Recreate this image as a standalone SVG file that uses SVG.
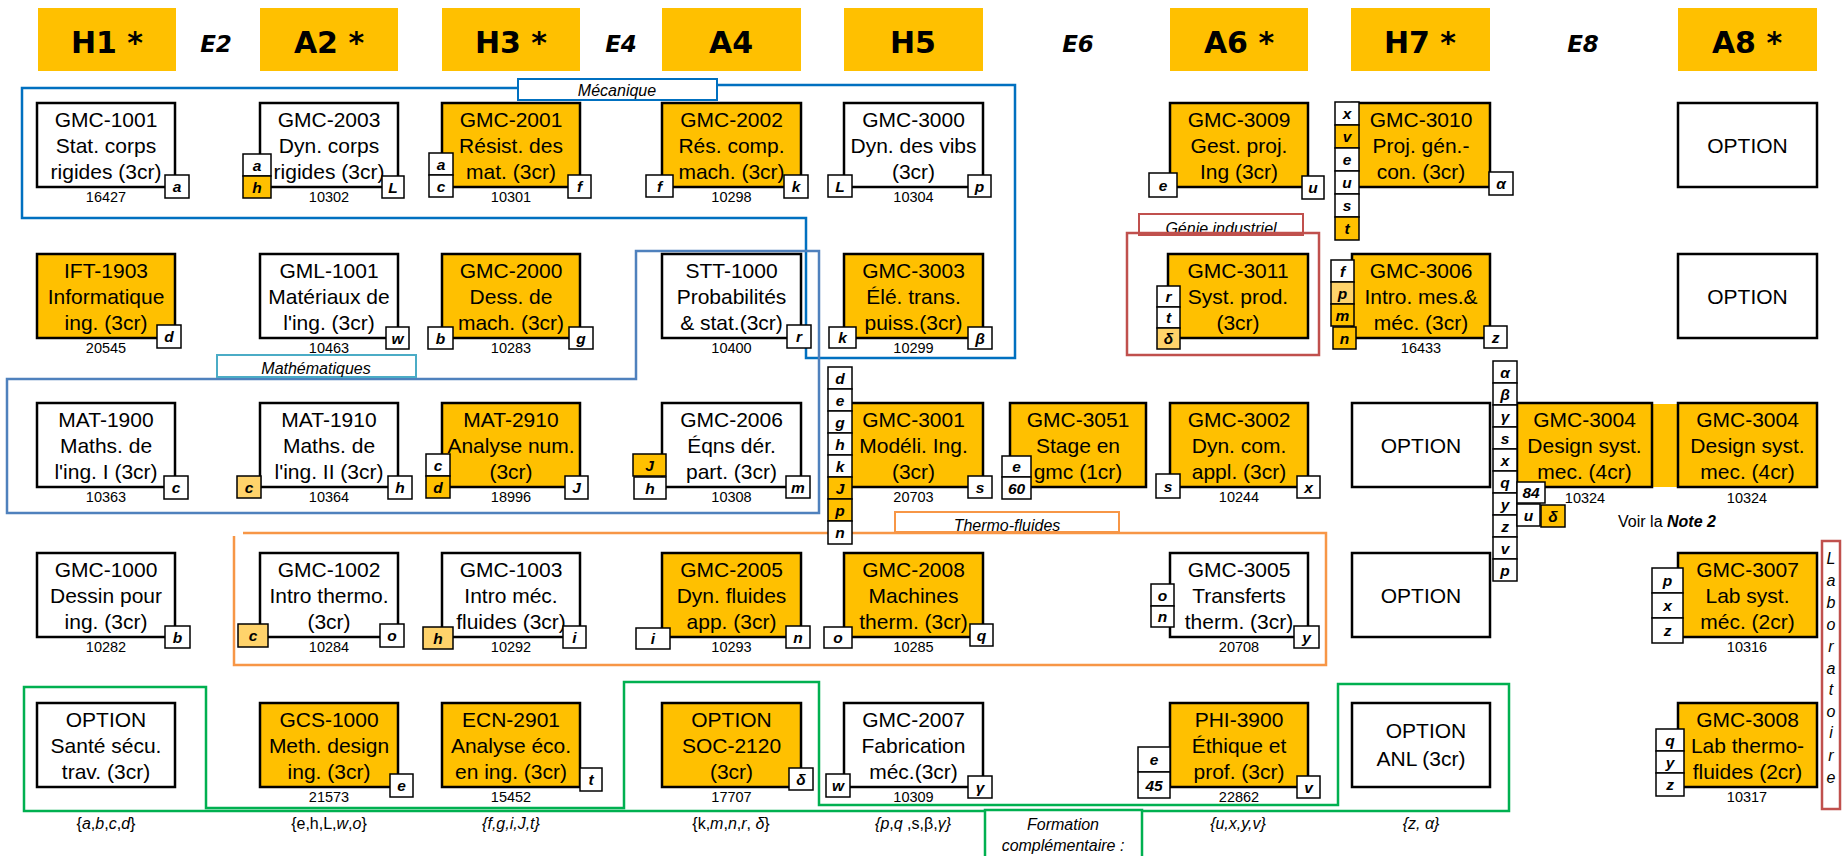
<svg xmlns="http://www.w3.org/2000/svg" width="1847" height="856" viewBox="0 0 1847 856">
<style>
text{font-family:"Liberation Sans",Arial,sans-serif;fill:#000}
.hd{fill:#FFC000}
.ht{font-family:"DejaVu Sans",Verdana,sans-serif;font-weight:bold;font-size:30px;text-anchor:middle}
.et{font-family:"DejaVu Sans",Verdana,sans-serif;font-weight:bold;font-style:italic;font-size:23px;text-anchor:middle}
.b{stroke:#000;stroke-width:2.5}
.w{fill:#fff}.o{fill:#FFC000}.lo{fill:#FFD36B}
.t{font-size:21px;text-anchor:middle}
.n{font-size:14.5px;text-anchor:middle}
.g rect{stroke:#000;stroke-width:1.5}
.g text{font-size:15.5px;font-weight:bold;font-style:italic;text-anchor:middle}
.lab{font-size:16px;font-style:italic;text-anchor:middle}
.set{font-size:16px;text-anchor:middle}
.i{font-style:italic}
.grp{fill:none;stroke-width:2.5}
</style>

<g id="headers">
<rect class="hd" x="38" y="8" width="138" height="63"/><text class="ht" x="107" y="53">H1 *</text>
<text class="et" x="216" y="52">E2</text>
<rect class="hd" x="260" y="8" width="138" height="63"/><text class="ht" x="329" y="53">A2 *</text>
<rect class="hd" x="442" y="8" width="138" height="63"/><text class="ht" x="511" y="53">H3 *</text>
<text class="et" x="621" y="52">E4</text>
<rect class="hd" x="662" y="8" width="139" height="63"/><text class="ht" x="731" y="53">A4</text>
<rect class="hd" x="844" y="8" width="139" height="63"/><text class="ht" x="913" y="53">H5</text>
<text class="et" x="1078" y="52">E6</text>
<rect class="hd" x="1170" y="8" width="138" height="63"/><text class="ht" x="1239" y="53">A6 *</text>
<rect class="hd" x="1351" y="8" width="139" height="63"/><text class="ht" x="1420" y="53">H7 *</text>
<text class="et" x="1583" y="52">E8</text>
<rect class="hd" x="1678" y="8" width="139" height="63"/><text class="ht" x="1747" y="53">A8 *</text>
</g>

<g id="groups">
<path class="grp" stroke="#0070C0" stroke-width="3" d="M717,85 L1015,85 L1015,358 L806,358 L806,218 L22,218 L22,88 L518,88"/>
<rect x="518" y="79" width="199" height="21" fill="#fff" stroke="#0070C0" stroke-width="2"/>
<text class="lab" x="617" y="96">Mécanique</text>

<path class="grp" stroke="#4F81BD" stroke-width="2" d="M7,379 L636,379 L636,251 L819,251 L819,513 L7,513 Z"/>
<rect x="217" y="355" width="199" height="22" fill="#fff" stroke="#4BACC6" stroke-width="2"/>
<text class="lab" x="316" y="374">Mathématiques</text>

<rect x="1139" y="214" width="164" height="21" fill="#fff" stroke="#C0504D" stroke-width="2"/>
<text class="lab" x="1221" y="234">Génie industriel</text>
<rect class="grp" x="1127" y="233" width="192" height="122" stroke="#C0504D" stroke-width="2"/>

<path class="grp" stroke="#F79646" d="M243,533 L1326,533 L1326,665 L234,665 L234,536"/>
<rect x="895" y="512" width="224" height="20" fill="#fff" stroke="#F79646" stroke-width="2"/>
<text class="lab" x="1007" y="531">Thermo-fluides</text>

<path class="grp" stroke="#00B050" d="M985,811 L24,811 L24,687 L206,687 L206,808 L624,808 L624,682 L819,682 L819,805 L1338,805 L1338,684 L1509,684 L1509,811 L1142,811"/>
<rect x="985" y="810" width="157" height="60" fill="#fff" stroke="#00B050" stroke-width="2.5"/>
<text class="lab" x="1063" y="830">Formation</text>
<text class="lab" x="1063" y="851">complémentaire :</text>

<rect x="1822" y="541" width="18" height="268" fill="#fff" stroke="#C0504D" stroke-width="2.5"/>
<g id="laboratoire">
<text class="lab" x="1831" y="564" font-size="19">L</text>
<text class="lab" x="1831" y="586" font-size="19">a</text>
<text class="lab" x="1831" y="608" font-size="19">b</text>
<text class="lab" x="1831" y="630" font-size="19">o</text>
<text class="lab" x="1831" y="652" font-size="19">r</text>
<text class="lab" x="1831" y="674" font-size="19">a</text>
<text class="lab" x="1831" y="695" font-size="19">t</text>
<text class="lab" x="1831" y="717" font-size="19">o</text>
<text class="lab" x="1831" y="738" font-size="19">i</text>
<text class="lab" x="1831" y="761" font-size="19">r</text>
<text class="lab" x="1831" y="783" font-size="19">e</text>
</g>
</g>

<g id="connectors"></g>

<!-- Row 1 -->
<g id="GMC-1001">
<rect class="b w" x="37" y="103" width="138" height="84"/>
<text class="t" x="106" y="127">GMC-1001</text><text class="t" x="106" y="153">Stat. corps</text><text class="t" x="106" y="179">rigides (3cr)</text>
<text class="n" x="106" y="202">16427</text>
<g class="g"><rect class="w" x="165" y="175" width="24" height="23"/><text x="177" y="192">a</text></g>
</g>
<g id="GMC-2003">
<rect class="b w" x="260" y="103" width="138" height="84"/>
<text class="t" x="329" y="127">GMC-2003</text><text class="t" x="329" y="153">Dyn. corps</text><text class="t" x="329" y="179">rigides (3cr)</text>
<text class="n" x="329" y="202">10302</text>
<g class="g"><rect class="w" x="243" y="154" width="28" height="22"/><text x="257" y="171">a</text></g>
<g class="g"><rect class="o" x="243" y="176" width="28" height="22"/><text x="257" y="193">h</text></g>
<g class="g"><rect class="w" x="382" y="176" width="22" height="22"/><text x="393" y="193">L</text></g>
</g>
<g id="GMC-2001">
<rect class="b o" x="442" y="103" width="138" height="84"/>
<text class="t" x="511" y="127">GMC-2001</text><text class="t" x="511" y="153">Résist. des</text><text class="t" x="511" y="179">mat. (3cr)</text>
<text class="n" x="511" y="202">10301</text>
<g class="g"><rect class="w" x="429" y="153" width="24" height="22"/><text x="441" y="170">a</text></g>
<g class="g"><rect class="w" x="429" y="175" width="24" height="22"/><text x="441" y="192">c</text></g>
<g class="g"><rect class="w" x="568" y="175" width="23" height="23"/><text x="579.5" y="192">f</text></g>
</g>
<g id="GMC-2002">
<rect class="b o" x="662" y="103" width="139" height="84"/>
<text class="t" x="731.5" y="127">GMC-2002</text><text class="t" x="731.5" y="153">Rés. comp.</text><text class="t" x="731.5" y="179">mach. (3cr)</text>
<text class="n" x="731.5" y="202">10298</text>
<g class="g"><rect class="w" x="646" y="175" width="27" height="22"/><text x="659.5" y="192">f</text></g>
<g class="g"><rect class="w" x="784" y="175" width="24" height="23"/><text x="796" y="192">k</text></g>
</g>
<g id="GMC-3000">
<rect class="b w" x="844" y="103" width="139" height="84"/>
<text class="t" x="913.5" y="127">GMC-3000</text><text class="t" x="913.5" y="153">Dyn. des vibs</text><text class="t" x="913.5" y="179">(3cr)</text>
<text class="n" x="913.5" y="202">10304</text>
<g class="g"><rect class="w" x="828" y="175" width="24" height="22"/><text x="840" y="192">L</text></g>
<g class="g"><rect class="w" x="968" y="175" width="23" height="22"/><text x="979.5" y="192">p</text></g>
</g>
<g id="GMC-3009">
<rect class="b o" x="1170" y="103" width="138" height="84"/>
<text class="t" x="1239" y="127">GMC-3009</text><text class="t" x="1239" y="153">Gest. proj.</text><text class="t" x="1239" y="179">Ing (3cr)</text>
<g class="g"><rect class="w" x="1149" y="173" width="28" height="24"/><text x="1163" y="191">e</text></g>
<g class="g"><rect class="w" x="1302" y="176" width="22" height="23"/><text x="1313" y="193">u</text></g>
</g>
<g id="GMC-3010">
<rect class="b o" x="1352" y="103" width="138" height="84"/>
<text class="t" x="1421" y="127">GMC-3010</text><text class="t" x="1421" y="153">Proj. gén.-</text><text class="t" x="1421" y="179">con. (3cr)</text>
<g class="g"><rect class="w" x="1335" y="102" width="24" height="23"/><text x="1347" y="119">x</text></g>
<g class="g"><rect class="o" x="1335" y="125" width="24" height="23"/><text x="1347" y="142">v</text></g>
<g class="g"><rect class="w" x="1335" y="148" width="24" height="23"/><text x="1347" y="165">e</text></g>
<g class="g"><rect class="w" x="1335" y="171" width="24" height="23"/><text x="1347" y="188">u</text></g>
<g class="g"><rect class="w" x="1335" y="194" width="24" height="23"/><text x="1347" y="211">s</text></g>
<g class="g"><rect class="o" x="1335" y="217" width="24" height="23"/><text x="1347" y="234">t</text></g>
<g class="g"><rect class="w" x="1489" y="172" width="24" height="23"/><text x="1501" y="189">α</text></g>
</g>
<g id="OPTION-A8-1">
<rect class="b w" x="1678" y="103" width="139" height="84"/>
<text class="t" x="1747.5" y="153">OPTION</text>
</g>

<!-- Row 2 -->
<g id="IFT-1903">
<rect class="b o" x="37" y="254" width="138" height="84"/>
<text class="t" x="106" y="278">IFT-1903</text><text class="t" x="106" y="304">Informatique</text><text class="t" x="106" y="330">ing. (3cr)</text>
<text class="n" x="106" y="353">20545</text>
<g class="g"><rect class="w" x="157" y="325" width="24" height="23"/><text x="169" y="342">d</text></g>
</g>
<g id="GML-1001">
<rect class="b w" x="260" y="254" width="138" height="84"/>
<text class="t" x="329" y="278">GML-1001</text><text class="t" x="329" y="304">Matériaux de</text><text class="t" x="329" y="330">l'ing. (3cr)</text>
<text class="n" x="329" y="353">10463</text>
<g class="g"><rect class="w" x="386" y="327" width="23" height="22"/><text x="397.5" y="344">w</text></g>
</g>
<g id="GMC-2000">
<rect class="b o" x="442" y="254" width="138" height="84"/>
<text class="t" x="511" y="278">GMC-2000</text><text class="t" x="511" y="304">Dess. de</text><text class="t" x="511" y="330">mach. (3cr)</text>
<text class="n" x="511" y="353">10283</text>
<g class="g"><rect class="w" x="428" y="327" width="25" height="22"/><text x="440.5" y="344">b</text></g>
<g class="g"><rect class="w" x="569" y="327" width="24" height="22"/><text x="581" y="344">g</text></g>
</g>
<g id="STT-1000">
<rect class="b w" x="662" y="254" width="139" height="84"/>
<text class="t" x="731.5" y="278">STT-1000</text><text class="t" x="731.5" y="304">Probabilités</text><text class="t" x="731.5" y="330">&amp; stat.(3cr)</text>
<text class="n" x="731.5" y="353">10400</text>
<g class="g"><rect class="w" x="787" y="325" width="24" height="23"/><text x="799" y="342">r</text></g>
</g>
<g id="GMC-3003">
<rect class="b o" x="844" y="254" width="139" height="84"/>
<text class="t" x="913.5" y="278">GMC-3003</text><text class="t" x="913.5" y="304">Élé. trans.</text><text class="t" x="913.5" y="330">puiss.(3cr)</text>
<text class="n" x="913.5" y="353">10299</text>
<g class="g"><rect class="w" x="829" y="327" width="27" height="21"/><text x="842.5" y="343">k</text></g>
<g class="g"><rect class="w" x="968" y="327" width="24" height="22"/><text x="980" y="344">β</text></g>
</g>
<g id="GMC-3011">
<rect class="b o" x="1168" y="254" width="140" height="84"/>
<text class="t" x="1238" y="278">GMC-3011</text><text class="t" x="1238" y="304">Syst. prod.</text><text class="t" x="1238" y="330">(3cr)</text>
<g class="g"><rect class="w" x="1157" y="286" width="23" height="21"/><text x="1168.5" y="302">r</text></g>
<g class="g"><rect class="w" x="1157" y="307" width="23" height="21"/><text x="1168.5" y="323">t</text></g>
<g class="g"><rect class="lo" x="1157" y="328" width="23" height="21"/><text x="1168.5" y="344">δ</text></g>
</g>
<g id="GMC-3006">
<rect class="b o" x="1352" y="254" width="138" height="84"/>
<text class="t" x="1421" y="278">GMC-3006</text><text class="t" x="1421" y="304">Intro. mes.&amp;</text><text class="t" x="1421" y="330">méc. (3cr)</text>
<text class="n" x="1421" y="353">16433</text>
<g class="g"><rect class="w" x="1331" y="260" width="23" height="22"/><text x="1342.5" y="277">f</text></g>
<g class="g"><rect class="lo" x="1331" y="282" width="23" height="22"/><text x="1342.5" y="299">p</text></g>
<g class="g"><rect class="o" x="1331" y="304" width="23" height="22"/><text x="1342.5" y="321">m</text></g>
<g class="g"><rect class="o" x="1333" y="327" width="23" height="22"/><text x="1344.5" y="344">n</text></g>
<g class="g"><rect class="w" x="1484" y="326" width="23" height="22"/><text x="1495.5" y="343">z</text></g>
</g>
<g id="OPTION-A8-2">
<rect class="b w" x="1678" y="254" width="139" height="84"/>
<text class="t" x="1747.5" y="304">OPTION</text>
</g>

<!-- Row 3 -->
<g id="MAT-1900">
<rect class="b w" x="37" y="403" width="138" height="84"/>
<text class="t" x="106" y="427">MAT-1900</text><text class="t" x="106" y="453">Maths. de</text><text class="t" x="106" y="479">l'ing. I (3cr)</text>
<text class="n" x="106" y="502">10363</text>
<g class="g"><rect class="w" x="164" y="476" width="24" height="23"/><text x="176" y="493">c</text></g>
</g>
<g id="MAT-1910">
<rect class="b w" x="260" y="403" width="138" height="84"/>
<text class="t" x="329" y="427">MAT-1910</text><text class="t" x="329" y="453">Maths. de</text><text class="t" x="329" y="479">l'ing. II (3cr)</text>
<text class="n" x="329" y="502">10364</text>
<g class="g"><rect class="lo" x="237" y="476" width="24" height="22"/><text x="249" y="493">c</text></g>
<g class="g"><rect class="w" x="388" y="476" width="24" height="23"/><text x="400" y="493">h</text></g>
</g>
<g id="MAT-2910">
<rect class="b o" x="442" y="403" width="138" height="84"/>
<text class="t" x="511" y="427">MAT-2910</text><text class="t" x="511" y="453">Analyse num.</text><text class="t" x="511" y="479">(3cr)</text>
<text class="n" x="511" y="502">18996</text>
<g class="g"><rect class="w" x="426" y="454" width="24" height="22"/><text x="438" y="471">c</text></g>
<g class="g"><rect class="o" x="426" y="476" width="24" height="22"/><text x="438" y="493">d</text></g>
<g class="g"><rect class="w" x="565" y="476" width="23" height="23"/><text x="576.5" y="493">J</text></g>
</g>
<g id="GMC-2006">
<rect class="b w" x="662" y="403" width="139" height="84"/>
<text class="t" x="731.5" y="427">GMC-2006</text><text class="t" x="731.5" y="453">Éqns dér.</text><text class="t" x="731.5" y="479">part. (3cr)</text>
<text class="n" x="731.5" y="502">10308</text>
<g class="g"><rect class="o" x="633" y="454" width="33" height="22"/><text x="649.5" y="471">J</text></g>
<g class="g"><rect class="w" x="634" y="477" width="32" height="22"/><text x="650" y="494">h</text></g>
<g class="g"><rect class="w" x="786" y="476" width="24" height="22"/><text x="798" y="493">m</text></g>
</g>
<g id="GMC-3001">
<rect class="b o" x="844" y="403" width="139" height="84"/>
<text class="t" x="913.5" y="427">GMC-3001</text><text class="t" x="913.5" y="453">Modéli. Ing.</text><text class="t" x="913.5" y="479">(3cr)</text>
<text class="n" x="913.5" y="502">20703</text>
<g class="g"><rect class="w" x="828" y="367" width="24" height="22"/><text x="840" y="384">d</text></g>
<g class="g"><rect class="w" x="828" y="389" width="24" height="22"/><text x="840" y="406">e</text></g>
<g class="g"><rect class="w" x="828" y="411" width="24" height="22"/><text x="840" y="428">g</text></g>
<g class="g"><rect class="w" x="828" y="433" width="24" height="22"/><text x="840" y="450">h</text></g>
<g class="g"><rect class="w" x="828" y="455" width="24" height="22"/><text x="840" y="472">k</text></g>
<g class="g"><rect class="o" x="828" y="477" width="24" height="22"/><text x="840" y="494">J</text></g>
<g class="g"><rect class="o" x="828" y="499" width="24" height="22"/><text x="840" y="516">p</text></g>
<g class="g"><rect class="w" x="828" y="521" width="24" height="23"/><text x="840" y="538">n</text></g>
<g class="g"><rect class="w" x="968" y="476" width="24" height="22"/><text x="980" y="493">s</text></g>
</g>
<g id="GMC-3051">
<rect class="b o" x="1010" y="403" width="136" height="84"/>
<text class="t" x="1078" y="427">GMC-3051</text><text class="t" x="1078" y="453">Stage en</text><text class="t" x="1078" y="479">gmc (1cr)</text>
<g class="g"><rect class="w" x="1002" y="456" width="29" height="21"/><text x="1016.5" y="472">e</text></g>
<g class="g"><rect class="w" x="1002" y="477" width="29" height="22"/><text x="1016.5" y="494">60</text></g>
</g>
<g id="GMC-3002">
<rect class="b o" x="1170" y="403" width="138" height="84"/>
<text class="t" x="1239" y="427">GMC-3002</text><text class="t" x="1239" y="453">Dyn. com.</text><text class="t" x="1239" y="479">appl. (3cr)</text>
<text class="n" x="1239" y="502">10244</text>
<g class="g"><rect class="w" x="1156" y="474" width="24" height="24"/><text x="1168" y="492">s</text></g>
<g class="g"><rect class="w" x="1297" y="476" width="23" height="22"/><text x="1308.5" y="493">x</text></g>
</g>
<g id="OPTION-H7">
<rect class="b w" x="1352" y="403" width="138" height="84"/>
<text class="t" x="1421" y="453">OPTION</text>
</g>
<g id="GMC-3004-a">
<rect class="o" x="1651" y="404" width="28" height="83"/>
<rect class="b o" x="1517" y="403" width="135" height="84"/>
<text class="t" x="1584.5" y="427">GMC-3004</text><text class="t" x="1584.5" y="453">Design syst.</text><text class="t" x="1584.5" y="479">mec. (4cr)</text>
<text class="n" x="1585" y="503">10324</text>
<g class="g"><rect class="w" x="1493" y="361" width="24" height="22"/><text x="1505" y="378">α</text></g>
<g class="g"><rect class="w" x="1493" y="383" width="24" height="22"/><text x="1505" y="400">β</text></g>
<g class="g"><rect class="w" x="1493" y="405" width="24" height="22"/><text x="1505" y="422">γ</text></g>
<g class="g"><rect class="w" x="1493" y="427" width="24" height="22"/><text x="1505" y="444">s</text></g>
<g class="g"><rect class="w" x="1493" y="449" width="24" height="22"/><text x="1505" y="466">x</text></g>
<g class="g"><rect class="w" x="1493" y="471" width="24" height="22"/><text x="1505" y="488">q</text></g>
<g class="g"><rect class="w" x="1493" y="493" width="24" height="22"/><text x="1505" y="510">y</text></g>
<g class="g"><rect class="w" x="1493" y="515" width="24" height="22"/><text x="1505" y="532">z</text></g>
<g class="g"><rect class="w" x="1493" y="537" width="24" height="22"/><text x="1505" y="554">v</text></g>
<g class="g"><rect class="w" x="1493" y="559" width="24" height="22"/><text x="1505" y="576">p</text></g>
<g class="g"><rect class="w" x="1517" y="482" width="28" height="21"/><text x="1531" y="498">84</text></g>
<g class="g"><rect class="w" x="1517" y="504" width="23" height="22"/><text x="1528.5" y="521">u</text></g>
<g class="g"><rect class="o" x="1541" y="505" width="24" height="22"/><text x="1553" y="522">δ</text></g>
</g>
<g id="GMC-3004-b">
<rect class="b o" x="1678" y="403" width="139" height="84"/>
<text class="t" x="1747.5" y="427">GMC-3004</text><text class="t" x="1747.5" y="453">Design syst.</text><text class="t" x="1747.5" y="479">mec. (4cr)</text>
<text class="n" x="1747" y="503">10324</text>
</g>
<text x="1667" y="527" font-size="16" text-anchor="middle">Voir la <tspan font-weight="bold" font-style="italic">Note 2</tspan></text>

<!-- Row 4 -->
<g id="GMC-1000">
<rect class="b w" x="37" y="553" width="138" height="84"/>
<text class="t" x="106" y="577">GMC-1000</text><text class="t" x="106" y="603">Dessin pour</text><text class="t" x="106" y="629">ing. (3cr)</text>
<text class="n" x="106" y="652">10282</text>
<g class="g"><rect class="w" x="165" y="626" width="25" height="22"/><text x="177.5" y="643">b</text></g>
</g>
<g id="GMC-1002">
<rect class="b w" x="260" y="553" width="138" height="84"/>
<text class="t" x="329" y="577">GMC-1002</text><text class="t" x="329" y="603">Intro thermo.</text><text class="t" x="329" y="629">(3cr)</text>
<text class="n" x="329" y="652">10284</text>
<g class="g"><rect class="lo" x="238" y="624" width="30" height="23"/><text x="253" y="641">c</text></g>
<g class="g"><rect class="w" x="380" y="624" width="24" height="23"/><text x="392" y="641">o</text></g>
</g>
<g id="GMC-1003">
<rect class="b w" x="442" y="553" width="138" height="84"/>
<text class="t" x="511" y="577">GMC-1003</text><text class="t" x="511" y="603">Intro méc.</text><text class="t" x="511" y="629">fluides (3cr)</text>
<text class="n" x="511" y="652">10292</text>
<g class="g"><rect class="lo" x="423" y="627" width="30" height="22"/><text x="438" y="644">h</text></g>
<g class="g"><rect class="w" x="563" y="626" width="23" height="22"/><text x="574.5" y="643">i</text></g>
</g>
<g id="GMC-2005">
<rect class="b o" x="662" y="553" width="139" height="84"/>
<text class="t" x="731.5" y="577">GMC-2005</text><text class="t" x="731.5" y="603">Dyn. fluides</text><text class="t" x="731.5" y="629">app. (3cr)</text>
<text class="n" x="731.5" y="652">10293</text>
<g class="g"><rect class="w" x="636" y="628" width="34" height="21"/><text x="653" y="644">i</text></g>
<g class="g"><rect class="w" x="786" y="626" width="24" height="22"/><text x="798" y="643">n</text></g>
</g>
<g id="GMC-2008">
<rect class="b o" x="844" y="553" width="139" height="84"/>
<text class="t" x="913.5" y="577">GMC-2008</text><text class="t" x="913.5" y="603">Machines</text><text class="t" x="913.5" y="629">therm. (3cr)</text>
<text class="n" x="913.5" y="652">10285</text>
<g class="g"><rect class="w" x="824" y="627" width="28" height="21"/><text x="838" y="643">o</text></g>
<g class="g"><rect class="w" x="970" y="624" width="23" height="22"/><text x="981.5" y="641">q</text></g>
</g>
<g id="GMC-3005">
<rect class="b w" x="1170" y="553" width="138" height="84"/>
<text class="t" x="1239" y="577">GMC-3005</text><text class="t" x="1239" y="603">Transferts</text><text class="t" x="1239" y="629">therm. (3cr)</text>
<text class="n" x="1239" y="652">20708</text>
<g class="g"><rect class="w" x="1151" y="584" width="23" height="22"/><text x="1162.5" y="601">o</text></g>
<g class="g"><rect class="w" x="1151" y="606" width="23" height="21"/><text x="1162.5" y="622">n</text></g>
<g class="g"><rect class="w" x="1294" y="626" width="25" height="22"/><text x="1306.5" y="643">y</text></g>
</g>
<g id="OPTION-H7-2">
<rect class="b w" x="1352" y="553" width="138" height="84"/>
<text class="t" x="1421" y="603">OPTION</text>
</g>
<g id="GMC-3007">
<rect class="b o" x="1678" y="553" width="139" height="84"/>
<text class="t" x="1747.5" y="577">GMC-3007</text><text class="t" x="1747.5" y="603">Lab syst.</text><text class="t" x="1747.5" y="629">méc. (2cr)</text>
<text class="n" x="1747" y="652">10316</text>
<g class="g"><rect class="w" x="1652" y="568" width="31" height="25"/><text x="1667.5" y="586">p</text></g>
<g class="g"><rect class="w" x="1652" y="593" width="31" height="25"/><text x="1667.5" y="611">x</text></g>
<g class="g"><rect class="w" x="1652" y="618" width="31" height="25"/><text x="1667.5" y="636">z</text></g>
</g>

<!-- Row 5 -->
<g id="OPTION-SST">
<rect class="b w" x="37" y="703" width="138" height="84"/>
<text class="t" x="106" y="727">OPTION</text><text class="t" x="106" y="753">Santé sécu.</text><text class="t" x="106" y="779">trav. (3cr)</text>
</g>
<g id="GCS-1000">
<rect class="b o" x="260" y="703" width="138" height="84"/>
<text class="t" x="329" y="727">GCS-1000</text><text class="t" x="329" y="753">Meth. design</text><text class="t" x="329" y="779">ing. (3cr)</text>
<text class="n" x="329" y="802">21573</text>
<g class="g"><rect class="w" x="390" y="774" width="23" height="23"/><text x="401.5" y="791">e</text></g>
</g>
<g id="ECN-2901">
<rect class="b o" x="442" y="703" width="138" height="84"/>
<text class="t" x="511" y="727">ECN-2901</text><text class="t" x="511" y="753">Analyse éco.</text><text class="t" x="511" y="779">en ing. (3cr)</text>
<text class="n" x="511" y="802">15452</text>
<g class="g"><rect class="w" x="580" y="768" width="22" height="23"/><text x="591" y="785">t</text></g>
</g>
<g id="SOC-2120">
<rect class="b o" x="662" y="703" width="139" height="84"/>
<text class="t" x="731.5" y="727">OPTION</text><text class="t" x="731.5" y="753">SOC-2120</text><text class="t" x="731.5" y="779">(3cr)</text>
<text class="n" x="731.5" y="802">17707</text>
<g class="g"><rect class="w" x="789" y="768" width="24" height="22"/><text x="801" y="785">δ</text></g>
</g>
<g id="GMC-2007">
<rect class="b w" x="844" y="703" width="139" height="84"/>
<text class="t" x="913.5" y="727">GMC-2007</text><text class="t" x="913.5" y="753">Fabrication</text><text class="t" x="913.5" y="779">méc.(3cr)</text>
<text class="n" x="913.5" y="802">10309</text>
<g class="g"><rect class="w" x="826" y="774" width="24" height="23"/><text x="838" y="791">w</text></g>
<g class="g"><rect class="w" x="968" y="776" width="24" height="22"/><text x="980" y="793">γ</text></g>
</g>
<g id="PHI-3900">
<rect class="b o" x="1170" y="703" width="138" height="84"/>
<text class="t" x="1239" y="727">PHI-3900</text><text class="t" x="1239" y="753">Éthique et</text><text class="t" x="1239" y="779">prof. (3cr)</text>
<text class="n" x="1239" y="802">22862</text>
<g class="g"><rect class="w" x="1138" y="747" width="32" height="25"/><text x="1154" y="765">e</text></g>
<g class="g"><rect class="w" x="1138" y="772" width="32" height="26"/><text x="1154" y="791">45</text></g>
<g class="g"><rect class="w" x="1297" y="776" width="23" height="22"/><text x="1308.5" y="793">v</text></g>
</g>
<g id="OPTION-ANL">
<rect class="b w" x="1352" y="703" width="138" height="84"/>
<text class="t" x="1426" y="738">OPTION</text><text class="t" x="1421" y="766">ANL (3cr)</text>
</g>
<g id="GMC-3008">
<rect class="b o" x="1678" y="703" width="139" height="84"/>
<text class="t" x="1747.5" y="727">GMC-3008</text><text class="t" x="1747.5" y="753">Lab thermo-</text><text class="t" x="1747.5" y="779">fluides (2cr)</text>
<text class="n" x="1747" y="802">10317</text>
<g class="g"><rect class="w" x="1656" y="729" width="28" height="22"/><text x="1670" y="746">q</text></g>
<g class="g"><rect class="w" x="1656" y="751" width="28" height="22"/><text x="1670" y="768">y</text></g>
<g class="g"><rect class="w" x="1656" y="773" width="28" height="23"/><text x="1670" y="790">z</text></g>
</g>

<g id="sets">
<text class="set" x="106" y="829">{<tspan class="i">a</tspan>,<tspan class="i">b</tspan>,<tspan class="i">c</tspan>,<tspan class="i">d</tspan>}</text>
<text class="set" x="329" y="829">{e,h,L,<tspan class="i">w</tspan>,<tspan class="i">o</tspan>}</text>
<text class="set i" x="511" y="829">{f,g,i,J,t}</text>
<text class="set" x="731" y="829">{k,<tspan class="i">m</tspan>,<tspan class="i">n</tspan>,<tspan class="i">r</tspan>, <tspan class="i">δ</tspan>}</text>
<text class="set" x="913" y="829"><tspan class="i">{p</tspan>,<tspan class="i">q</tspan> ,s,β,<tspan class="i">γ}</tspan></text>
<text class="set i" x="1238" y="829">{u,x,y,v}</text>
<text class="set i" x="1421" y="829">{z, α}</text>
</g>
</svg>
